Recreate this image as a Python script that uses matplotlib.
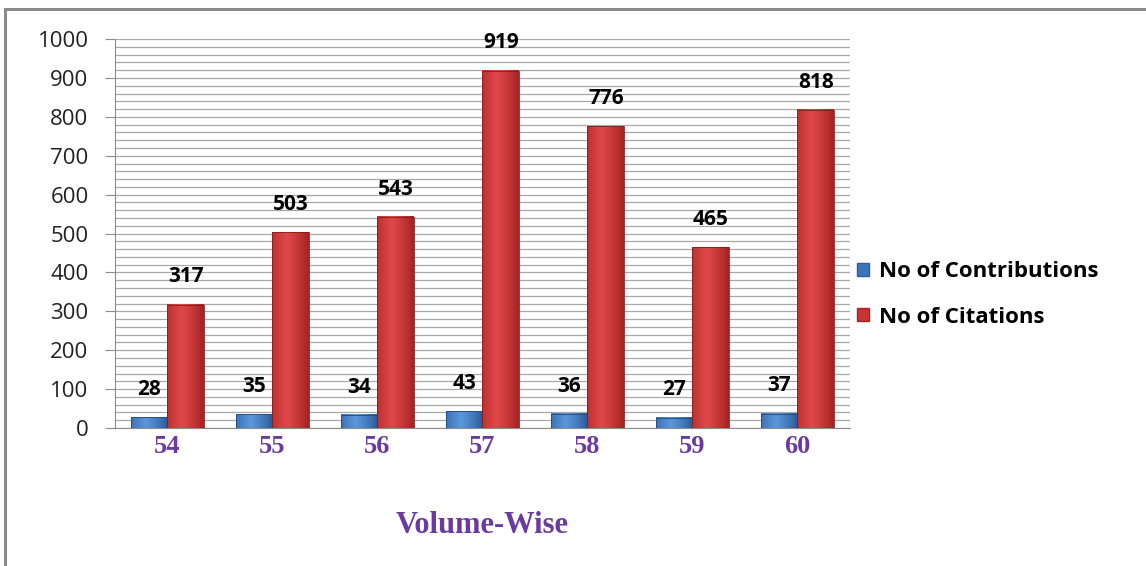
import numpy as np
import matplotlib.pyplot as plt
from matplotlib.patches import Rectangle
from matplotlib.ticker import MultipleLocator

volumes = ['54', '55', '56', '57', '58', '59', '60']
contributions = [28, 35, 34, 43, 36, 27, 37]
citations = [317, 503, 543, 919, 776, 465, 818]

fig = plt.figure(figsize=(11.46, 5.66), dpi=100)
ax = fig.add_axes([0.1003, 0.2438, 0.6414, 0.6872])

# outer frame (only top/left edges show)
fig.patches.append(Rectangle((0.0045, -0.05), 1.2, 0.9845 + 0.05, transform=fig.transFigure,
                             fill=False, edgecolor='#8a8a8a', linewidth=2.2, zorder=0))

x = np.arange(len(volumes))
w = 0.35


def shaded_bar(ax, xc, h, width, dark, light):
    # horizontal gradient: dark edges, lighter body
    t = np.linspace(0, 1, 64)
    prof = np.clip(1 - np.abs(t - 0.4) * 1.8, 0, 1) ** 0.8
    dark = np.array(plt.matplotlib.colors.to_rgb(dark))
    light = np.array(plt.matplotlib.colors.to_rgb(light))
    img = dark[None, :] + (light - dark)[None, :] * prof[:, None]
    img = img[None, :, :]
    ax.imshow(img, extent=(xc - width / 2, xc + width / 2, 0, h), aspect='auto',
              zorder=3, interpolation='bilinear')
    ax.add_patch(Rectangle((xc - width / 2, 0), width, h, fill=False,
                           edgecolor=dark * 0.8, linewidth=0.6, zorder=4))


for i in range(len(volumes)):
    shaded_bar(ax, x[i] - w / 2, contributions[i], w, '#2c5d9c', '#5b97dc')
    shaded_bar(ax, x[i] + w / 2, citations[i], w, '#a82424', '#e04848')
    ax.annotate(str(contributions[i]), (x[i] - w / 2, contributions[i]), xytext=(0, 20),
                textcoords='offset points', ha='center', va='center',
                fontsize=15, fontweight='bold', family='Open Sans', zorder=5)
    ax.annotate(str(citations[i]), (x[i] + w / 2, citations[i]), xytext=(0, 20),
                textcoords='offset points', ha='center', va='center',
                fontsize=15, fontweight='bold', family='Open Sans', zorder=5)

ax.set_xlim(-0.5, len(volumes) - 0.5)
ax.set_ylim(0, 1000)
ax.yaxis.set_major_locator(MultipleLocator(100))
ax.yaxis.set_minor_locator(MultipleLocator(20))
ax.grid(axis='y', which='both', color='#a8a8a8', linewidth=0.9, zorder=0)
ax.set_axisbelow(True)

for s in ['top', 'right']:
    ax.spines[s].set_visible(False)
ax.spines['left'].set_color('#8c8c8c')
ax.spines['bottom'].set_color('#8c8c8c')
ax.tick_params(axis='y', which='major', length=7, color='#8c8c8c', labelsize=16, pad=12)
ax.tick_params(axis='y', which='minor', length=0)
ax.tick_params(axis='x', length=0, pad=5)
for lbl in ax.get_yticklabels():
    lbl.set_family('Open Sans')
    lbl.set_color('#222222')

ax.set_xticks(x)
ax.set_xticklabels(volumes, family='Liberation Serif', fontweight='bold',
                   fontsize=19, color='#6a3aa0')
ax.set_xlabel('Volume-Wise', family='Liberation Serif', fontweight='bold',
              fontsize=22, color='#6a3aa0', labelpad=38)

# legend
handles = [Rectangle((0, 0), 1, 1, facecolor='#3d75bd', edgecolor='#2c5d9c'),
           Rectangle((0, 0), 1, 1, facecolor='#c83434', edgecolor='#a82424')]
leg = fig.legend(handles, ['No of Contributions', 'No of Citations'],
                 loc='center left', bbox_to_anchor=(0.730, 0.48), frameon=False,
                 prop={'family': 'Open Sans', 'weight': 'bold', 'size': 16},
                 handlelength=0.55, handleheight=0.55, handletextpad=0.45, labelspacing=1.1)

fig.savefig('out.png', dpi=100)
